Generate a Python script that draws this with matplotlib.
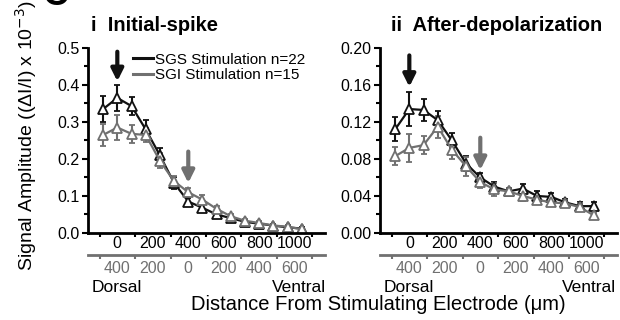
import numpy as np
import matplotlib.pyplot as plt
from matplotlib.ticker import MultipleLocator
from matplotlib.lines import Line2D

plt.rcParams['font.family'] = ['Liberation Sans', 'DejaVu Sans']

# distance from SGS stimulating electrode (um)
distance = [-80, 0, 80, 160, 240, 320, 400, 480, 560, 640, 720, 800, 880, 960, 1040]

# i  initial spike
spike_sgs = [0.335, 0.365, 0.343, 0.280, 0.210, 0.135, 0.085, 0.068, 0.050, 0.040, 0.030, 0.025, 0.020, 0.015, 0.012]
spike_sgs_err = [0.035, 0.035, 0.025, 0.025, 0.020, 0.015, 0.010, 0.010, 0.008, 0.006, 0.005, 0.005, 0.004, 0.004, 0.003]
spike_sgi = [0.265, 0.285, 0.268, 0.265, 0.195, 0.140, 0.110, 0.090, 0.065, 0.045, 0.033, 0.027, 0.020, 0.017, 0.010]
spike_sgi_err = [0.030, 0.035, 0.025, 0.020, 0.020, 0.015, 0.012, 0.012, 0.008, 0.006, 0.005, 0.005, 0.004, 0.004, 0.003]

# ii  after-depolarization
adp_sgs = [0.112, 0.134, 0.133, 0.122, 0.100, 0.075, 0.060, 0.050, 0.045, 0.048, 0.040, 0.039, 0.033, 0.029, 0.029]
adp_sgs_err = [0.013, 0.018, 0.012, 0.010, 0.008, 0.008, 0.005, 0.005, 0.004, 0.005, 0.005, 0.004, 0.004, 0.004, 0.004]
adp_sgi = [0.083, 0.092, 0.095, 0.115, 0.090, 0.072, 0.055, 0.047, 0.045, 0.040, 0.036, 0.033, 0.032, 0.028, 0.019]
adp_sgi_err = [0.010, 0.015, 0.010, 0.012, 0.010, 0.010, 0.006, 0.007, 0.004, 0.005, 0.005, 0.004, 0.004, 0.004, 0.003]

main_ticks = [0, 200, 400, 600, 800, 1000]
sgi_ticks = [400, 200, 0, 200, 400, 600]

BLACK = '#111111'
GRAY = '#707070'


def plot_series(ax, y, err, color):
    ax.errorbar(distance, y, yerr=err, color=color, marker='^', markersize=6.5,
                markerfacecolor='white', markeredgecolor=color, markeredgewidth=1.3,
                lw=1.6, elinewidth=1.5, capsize=2.5, capthick=1.5)


def style_axes(ax, ymax, ymajor, fmt):
    ax.set_xlim(-165, 1170)
    ax.set_ylim(0, ymax)
    for s in ['top', 'right']:
        ax.spines[s].set_visible(False)
    for s in ['left', 'bottom']:
        ax.spines[s].set_linewidth(2)
    ax.set_xticks(main_ticks)
    ax.xaxis.set_minor_locator(MultipleLocator(100))
    ax.yaxis.set_major_locator(MultipleLocator(ymajor))
    ax.yaxis.set_minor_locator(MultipleLocator(ymajor / 2))
    ax.yaxis.set_major_formatter(fmt)
    ax.tick_params(which='both', direction='out', width=1.5, labelsize=11.5, pad=2)
    ax.tick_params(which='major', length=4)
    ax.tick_params(which='minor', length=3)
    ax.tick_params(axis='x', which='major', length=0)


def add_arrow(ax, x, top, tip, color):
    ax.annotate('', xy=(x, tip), xytext=(x, top),
                arrowprops=dict(arrowstyle='-|>', color=color, lw=3,
                                mutation_scale=18, shrinkA=0, shrinkB=0))


def sgi_axis(fig, left, width):
    ax2 = fig.add_axes([left, 0.203, width, 0.0001])
    for s in ['top', 'right', 'left']:
        ax2.spines[s].set_visible(False)
    ax2.spines['bottom'].set_color(GRAY)
    ax2.spines['bottom'].set_linewidth(2)
    ax2.set_yticks([])
    ax2.set_xlim(-165, 1170)
    ax2.set_xticks(main_ticks)
    ax2.set_xticklabels([str(t) for t in sgi_ticks])
    ax2.xaxis.set_minor_locator(MultipleLocator(100))
    ax2.tick_params(which='both', color=GRAY, labelcolor=GRAY, width=1.5,
                    labelsize=11.5, pad=4)
    ax2.tick_params(which='major', length=0)
    ax2.tick_params(which='minor', length=3)
    return ax2


fig = plt.figure(figsize=(6.2, 3.2), dpi=100)

ax1 = fig.add_axes([0.142, 0.272, 0.382, 0.578])
plot_series(ax1, spike_sgs, spike_sgs_err, BLACK)
plot_series(ax1, spike_sgi, spike_sgi_err, GRAY)
style_axes(ax1, 0.5, 0.1, '{x:.1f}')
add_arrow(ax1, 0, 0.49, 0.41, BLACK)
add_arrow(ax1, 400, 0.22, 0.135, GRAY)
handles = [Line2D([], [], color=BLACK, lw=2.2), Line2D([], [], color=GRAY, lw=2.2)]
ax1.legend(handles, ['SGS Stimulation n=22', 'SGI Stimulation n=15'],
           loc='upper left', bbox_to_anchor=(0.19, 0.975), frameon=False,
           fontsize=11, handlelength=1.3, handletextpad=0.15, labelspacing=0.1,
           borderaxespad=0, borderpad=0)
sgi_axis(fig, 0.142, 0.382)

ax3 = fig.add_axes([0.613, 0.272, 0.382, 0.578])
plot_series(ax3, adp_sgs, adp_sgs_err, BLACK)
plot_series(ax3, adp_sgi, adp_sgi_err, GRAY)
style_axes(ax3, 0.2, 0.04, '{x:.2f}')
add_arrow(ax3, 0, 0.192, 0.158, BLACK)
add_arrow(ax3, 400, 0.103, 0.068, GRAY)
sgi_axis(fig, 0.613, 0.382)

# titles
fig.text(0.146, 0.92, 'i  Initial-spike', fontsize=14.5, fontweight='bold', va='center')
fig.text(0.630, 0.92, 'ii  After-depolarization', fontsize=14.5, fontweight='bold', va='center')
fig.text(0.068, 1.015, 'C', fontsize=26, fontweight='bold', va='center')

# dorsal / ventral
fig.text(0.147, 0.103, 'Dorsal', fontsize=12.5, va='center')
fig.text(0.526, 0.103, 'Ventral', fontsize=12.5, va='center', ha='right')
fig.text(0.618, 0.103, 'Dorsal', fontsize=12.5, va='center')
fig.text(0.993, 0.103, 'Ventral', fontsize=12.5, va='center', ha='right')

fig.text(0.61, 0.047, 'Distance From Stimulating Electrode (\u03bcm)', fontsize=14.5,
         ha='center', va='center')
fig.text(0.042, 0.575, 'Signal Amplitude ((\u0394I/I) x 10$^{-3}$)', fontsize=14,
         rotation=90, ha='center', va='center')

fig.savefig('out.png', dpi=100)
